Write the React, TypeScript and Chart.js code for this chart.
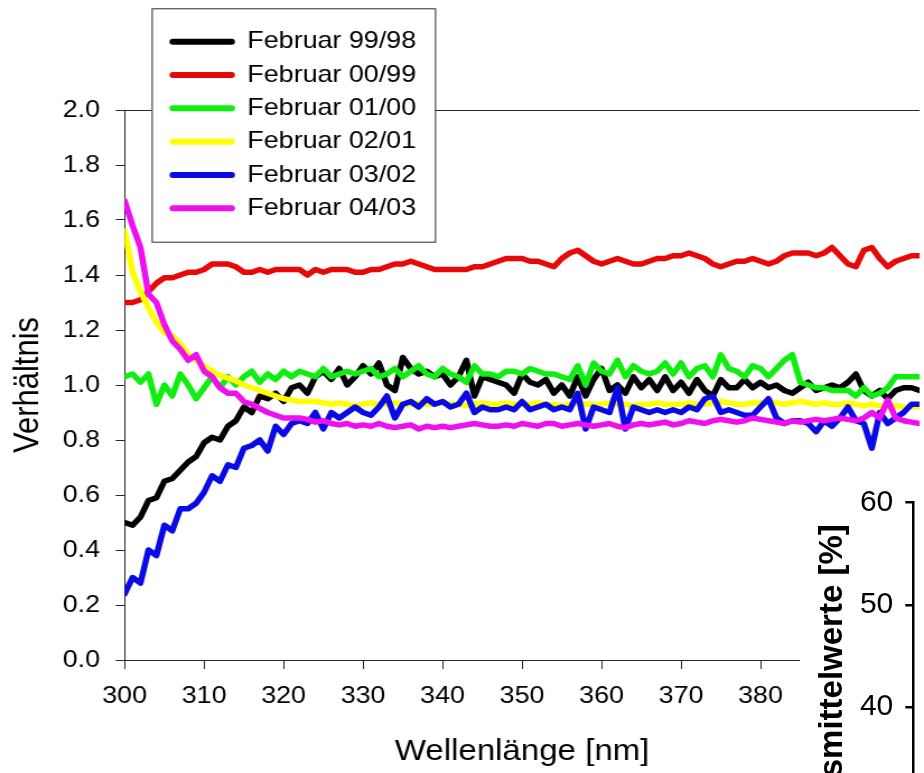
import { useEffect, useRef } from "react";
import { Chart, registerables } from "chart.js";

Chart.register(...registerables);

const FONT = '"Liberation Sans", Arial, Helvetica, sans-serif';
const SX = 1.12; // horizontal stretch of the original picture

const wavelengths = [
  300, 301, 302, 303, 304, 305, 306, 307, 308, 309,
  310, 311, 312, 313, 314, 315, 316, 317, 318, 319,
  320, 321, 322, 323, 324, 325, 326, 327, 328, 329,
  330, 331, 332, 333, 334, 335, 336, 337, 338, 339,
  340, 341, 342, 343, 344, 345, 346, 347, 348, 349,
  350, 351, 352, 353, 354, 355, 356, 357, 358, 359,
  360, 361, 362, 363, 364, 365, 366, 367, 368, 369,
  370, 371, 372, 373, 374, 375, 376, 377, 378, 379,
  380, 381, 382, 383, 384, 385, 386, 387, 388, 389,
  390, 391, 392, 393, 394, 395, 396, 397, 398, 399,
  400,
];

const feb9998 = [
  0.50, 0.49, 0.52, 0.58, 0.59, 0.65, 0.66, 0.69, 0.72, 0.74,
  0.79, 0.81, 0.80, 0.85, 0.87, 0.92, 0.90, 0.96, 0.95, 0.97,
  0.94, 0.99, 1.00, 0.97, 1.03, 1.05, 1.02, 1.06, 1.00, 1.03,
  1.07, 1.04, 1.08, 1.00, 0.98, 1.10, 1.06, 1.04, 1.05, 1.03,
  1.04, 1.00, 1.03, 1.09, 0.96, 1.03, 1.02, 1.01, 1.00, 0.97,
  1.04, 1.01, 1.00, 1.02, 0.97, 1.00, 0.96, 1.03, 0.96, 1.02,
  1.06, 0.98, 1.00, 0.97, 1.03, 0.99, 1.02, 0.98, 1.03, 0.98,
  1.01, 0.97, 1.02, 0.98, 0.96, 1.02, 0.99, 0.99, 1.02, 0.99,
  1.01, 0.99, 1.00, 0.98, 0.97, 0.99, 1.01, 0.98, 0.99, 1.00,
  0.99, 1.01, 1.04, 0.98, 0.96, 0.98, 0.95, 0.98, 0.99, 0.99,
  0.98,
];

const feb0099 = [
  1.30, 1.30, 1.31, 1.34, 1.37, 1.39, 1.39, 1.40, 1.41, 1.41,
  1.42, 1.44, 1.44, 1.44, 1.43, 1.41, 1.41, 1.42, 1.41, 1.42,
  1.42, 1.42, 1.42, 1.40, 1.42, 1.41, 1.42, 1.42, 1.42, 1.41,
  1.41, 1.42, 1.42, 1.43, 1.44, 1.44, 1.45, 1.44, 1.43, 1.42,
  1.42, 1.42, 1.42, 1.42, 1.43, 1.43, 1.44, 1.45, 1.46, 1.46,
  1.46, 1.45, 1.45, 1.44, 1.43, 1.46, 1.48, 1.49, 1.47, 1.45,
  1.44, 1.45, 1.46, 1.45, 1.44, 1.44, 1.45, 1.46, 1.46, 1.47,
  1.47, 1.48, 1.47, 1.46, 1.44, 1.43, 1.44, 1.45, 1.45, 1.46,
  1.45, 1.44, 1.45, 1.47, 1.48, 1.48, 1.48, 1.47, 1.48, 1.50,
  1.47, 1.44, 1.43, 1.49, 1.50, 1.46, 1.43, 1.45, 1.46, 1.47,
  1.47,
];

const feb0100 = [
  1.03, 1.04, 1.01, 1.04, 0.93, 1.00, 0.96, 1.04, 1.00, 0.95,
  0.99, 1.03, 0.99, 1.03, 1.00, 1.03, 1.05, 1.01, 1.04, 1.02,
  1.05, 1.03, 1.05, 1.04, 1.03, 1.06, 1.03, 1.04, 1.05, 1.04,
  1.05, 1.06, 1.03, 1.04, 1.06, 1.03, 1.05, 1.07, 1.04, 1.03,
  1.06, 1.04, 1.03, 1.01, 1.07, 1.04, 1.04, 1.03, 1.05, 1.05,
  1.04, 1.06, 1.05, 1.04, 1.04, 1.03, 1.02, 1.07, 1.00, 1.08,
  1.05, 1.04, 1.09, 1.03, 1.07, 1.05, 1.04, 1.05, 1.08, 1.04,
  1.08, 1.03, 1.06, 1.07, 1.03, 1.11, 1.06, 1.05, 1.03, 1.07,
  1.06, 1.03, 1.06, 1.09, 1.11, 1.01, 1.00, 0.99, 0.99, 0.98,
  0.98, 0.98, 0.96, 0.99, 0.96, 0.97, 0.99, 1.03, 1.03, 1.03,
  1.03,
];

const feb0201 = [
  1.56, 1.41, 1.34, 1.28, 1.23, 1.19, 1.18, 1.15, 1.11, 1.09,
  1.07, 1.05, 1.035, 1.025, 1.015, 1.00, 0.99, 0.98, 0.97, 0.96,
  0.95, 0.945, 0.94, 0.94, 0.94, 0.935, 0.93, 0.935, 0.93, 0.925,
  0.93, 0.935, 0.93, 0.93, 0.935, 0.93, 0.93, 0.935, 0.93, 0.93,
  0.935, 0.93, 0.93, 0.925, 0.93, 0.935, 0.93, 0.93, 0.935, 0.93,
  0.93, 0.93, 0.935, 0.93, 0.93, 0.925, 0.93, 0.935, 0.93, 0.93,
  0.93, 0.935, 0.93, 0.93, 0.925, 0.93, 0.93, 0.935, 0.93, 0.93,
  0.93, 0.935, 0.93, 0.93, 0.935, 0.94, 0.935, 0.93, 0.93, 0.935,
  0.935, 0.94, 0.935, 0.93, 0.935, 0.94, 0.935, 0.93, 0.935, 0.93,
  0.93, 0.935, 0.93, 0.925, 0.93, 0.925, 0.92, 0.925, 0.92, 0.92,
  0.92,
];

const feb0302 = [
  0.24, 0.30, 0.28, 0.40, 0.38, 0.49, 0.47, 0.55, 0.55, 0.57,
  0.61, 0.67, 0.65, 0.71, 0.70, 0.77, 0.78, 0.80, 0.76, 0.85,
  0.82, 0.86, 0.87, 0.86, 0.90, 0.84, 0.90, 0.88, 0.90, 0.92,
  0.90, 0.89, 0.92, 0.96, 0.88, 0.93, 0.94, 0.92, 0.95, 0.93,
  0.94, 0.92, 0.93, 0.97, 0.90, 0.92, 0.91, 0.91, 0.92, 0.91,
  0.94, 0.91, 0.92, 0.93, 0.91, 0.92, 0.91, 0.97, 0.84, 0.92,
  0.91, 0.90, 0.99, 0.84, 0.92, 0.91, 0.90, 0.91, 0.90, 0.91,
  0.90, 0.92, 0.91, 0.95, 0.96, 0.90, 0.91, 0.90, 0.89, 0.89,
  0.92, 0.95, 0.88, 0.86, 0.87, 0.87, 0.86, 0.83, 0.87, 0.85,
  0.88, 0.92, 0.87, 0.86, 0.77, 0.90, 0.86, 0.88, 0.90, 0.93,
  0.93,
];

const feb0403 = [
  1.67, 1.58, 1.50, 1.33, 1.30, 1.22, 1.16, 1.13, 1.09, 1.11,
  1.05, 1.03, 0.99, 0.97, 0.97, 0.94, 0.93, 0.915, 0.90, 0.89,
  0.88, 0.88, 0.88, 0.875, 0.865, 0.87, 0.86, 0.855, 0.86, 0.85,
  0.855, 0.85, 0.86, 0.85, 0.845, 0.85, 0.855, 0.84, 0.85, 0.845,
  0.85, 0.845, 0.85, 0.855, 0.86, 0.855, 0.85, 0.85, 0.855, 0.85,
  0.86, 0.855, 0.85, 0.86, 0.86, 0.85, 0.855, 0.86, 0.855, 0.85,
  0.855, 0.86, 0.85, 0.845, 0.855, 0.86, 0.855, 0.86, 0.865, 0.855,
  0.86, 0.87, 0.865, 0.86, 0.87, 0.875, 0.87, 0.865, 0.87, 0.88,
  0.875, 0.87, 0.865, 0.86, 0.87, 0.865, 0.87, 0.875, 0.87, 0.875,
  0.88, 0.875, 0.87, 0.88, 0.90, 0.88, 0.945, 0.88, 0.87, 0.865,
  0.86,
];

const seriesLabels = [
  "Februar 99/98",
  "Februar 00/99",
  "Februar 01/00",
  "Februar 02/01",
  "Februar 03/02",
  "Februar 04/03",
];
const seriesValues = [feb9998, feb0099, feb0100, feb0201, feb0302, feb0403];
const seriesColors = ["#000000", "#e80808", "#10ee10", "#ffff00", "#0a0ae6", "#ee10ee"];

const xTitle = "Wellenlänge [nm]";
const yTitle = "Verhältnis";
const xMin = 300;
const xMax = 400;
const xStep = 10;
const yMin = 0;
const yMax = 2;
const yStep = 0.2;

const overlayTitle = "Monatsmittelwerte [%]";
const overlayMin = 21.5;
const overlayMax = 60;
const overlayStep = 10;

const whiteBg = {
  id: "whiteBg",
  beforeDraw(chart: any) {
    const c = chart.ctx;
    c.save();
    c.fillStyle = "#ffffff";
    c.fillRect(0, 0, chart.width, chart.height);
    c.restore();
  },
};

const boxLegend = {
  id: "boxLegend",
  afterDraw(chart: any) {
    const c = chart.ctx;
    c.save();
    const bx = 135.4;
    const by = 8.3;
    const bw = 253;
    const bh = 233.4;
    c.fillStyle = "#ffffff";
    c.fillRect(bx, by, bw, bh);
    c.strokeStyle = "#2a2a2a";
    c.lineWidth = 1;
    c.strokeRect(bx + 0.5, by + 0.5, bw, bh);
    chart.data.datasets.forEach((ds: any, i: number) => {
      const y = 41.7 + i * 33.33;
      c.strokeStyle = ds.borderColor;
      c.lineWidth = 6;
      c.lineCap = "round";
      c.beginPath();
      c.moveTo(154.3, y);
      c.lineTo(206.8, y);
      c.stroke();
      c.fillStyle = "#000000";
      c.font = `24px ${FONT}`;
      c.textBaseline = "middle";
      c.textAlign = "left";
      c.fillText(ds.label, 220.8, y);
    });
    c.restore();
  },
};

export default function App() {
  const mainRef = useRef<HTMLCanvasElement | null>(null);
  const overRef = useRef<HTMLCanvasElement | null>(null);

  useEffect(() => {
    if (!mainRef.current || !overRef.current) return;
    const n = seriesValues.length;
    const main = new Chart(mainRef.current, {
      type: "line",
      data: {
        datasets: seriesValues.map((vals, i) => ({
          label: seriesLabels[i],
          data: vals.map((v, j) => ({ x: wavelengths[j], y: v })),
          borderColor: seriesColors[i],
          backgroundColor: seriesColors[i],
          borderWidth: 5.5,
          pointRadius: 0,
          tension: 0,
          fill: false,
          borderJoinStyle: "round" as const,
          borderCapStyle: "round" as const,
          order: n - i,
        })),
      },
      options: {
        animation: false,
        responsive: false,
        devicePixelRatio: 1,
        layout: { padding: { top: 110, right: 25, left: 0, bottom: 0 } },
        plugins: { legend: { display: false }, tooltip: { enabled: false } },
        scales: {
          x: {
            type: "linear",
            position: "bottom",
            min: xMin,
            max: xMax,
            ticks: {
              stepSize: xStep,
              color: "#000",
              font: { family: FONT, size: 24 },
              padding: 13,
              maxRotation: 0,
              autoSkip: false,
              callback: (v: any) => String(v),
            },
            grid: { display: true, drawOnChartArea: false, drawTicks: true, tickLength: 9, color: "#2a2a2a", lineWidth: 1 },
            border: { display: true, color: "#2a2a2a", width: 1 },
            title: { display: true, text: xTitle, color: "#000", font: { family: FONT, size: 29.5 }, padding: { top: 0, bottom: 3 } },
            afterFit: (s: any) => { s.height = 113; },
          },
          xTop: {
            type: "linear",
            position: "top",
            min: xMin,
            max: xMax,
            ticks: { display: false },
            grid: { display: false, drawTicks: false },
            border: { display: true, color: "#2a2a2a", width: 1 },
            afterFit: (s: any) => { s.height = 0; },
          },
          y: {
            type: "linear",
            min: yMin,
            max: yMax,
            ticks: {
              stepSize: yStep,
              color: "#000",
              font: { family: FONT, size: 24 },
              padding: 14,
              callback: (v: any) => Number(v).toFixed(1),
            },
            grid: { display: true, drawOnChartArea: false, drawTicks: true, tickLength: 8, color: "#2a2a2a", lineWidth: 1 },
            border: { display: true, color: "#2a2a2a", width: 1 },
            title: { display: true, text: yTitle, color: "#000", font: { family: FONT, size: 31 }, padding: { top: 7, bottom: 0 } },
            afterFit: (s: any) => { s.width = 111.25; },
          },
        },
      } as any,
      plugins: [whiteBg, boxLegend],
    });

    const over = new Chart(overRef.current, {
      type: "line",
      data: { datasets: [] },
      options: {
        animation: false,
        responsive: false,
        devicePixelRatio: 1,
        layout: { padding: { top: 32.7, bottom: 2.7, left: 0, right: 0 } },
        plugins: { legend: { display: false }, tooltip: { enabled: false } },
        scales: {
          x: { type: "linear", display: false, min: 0, max: 1 },
          y: {
            type: "linear",
            min: overlayMin,
            max: overlayMax,
            ticks: { stepSize: overlayStep, color: "#000", font: { family: FONT, size: 30 }, padding: 12 },
            grid: { display: true, drawOnChartArea: false, drawTicks: true, tickLength: 8, color: "#000", lineWidth: 2.5 },
            border: { display: true, color: "#000", width: 2.5 },
            title: { display: true, text: overlayTitle, color: "#000", font: { family: FONT, size: 33, weight: "bold" }, padding: { top: 12.7, bottom: 0 } },
            afterFit: (s: any) => { s.width = 113.3; },
          },
        },
      } as any,
      plugins: [whiteBg],
    });

    return () => {
      main.destroy();
      over.destroy();
    };
  }, []);

  return (
    <div style={{ position: "absolute", left: 0, top: 0, width: 924, height: 773, overflow: "hidden", background: "#fff" }}>
      <canvas
        ref={mainRef}
        width={854}
        height={773}
        style={{ position: "absolute", left: 0, top: 0, transform: `scaleX(${SX})`, transformOrigin: "0 0" }}
      />
      <canvas ref={overRef} width={150} height={456} style={{ position: "absolute", left: 800, top: 470 }} />
    </div>
  );
}
